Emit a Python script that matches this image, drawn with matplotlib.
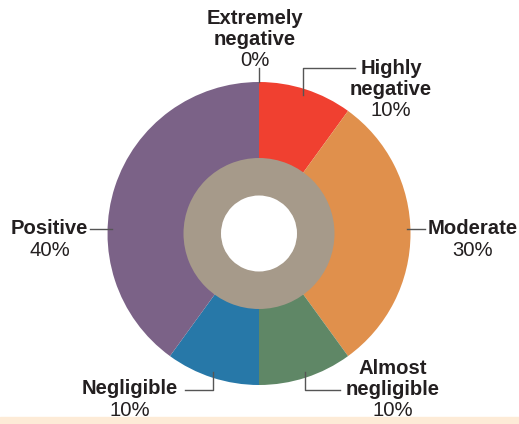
import matplotlib.pyplot as plt

plt.rcParams['font.family'] = ['Liberation Sans', 'DejaVu Sans']

# 数据
categories = ['Extremely\nnegative', 'Highly\nnegative', 'Moderate',
              'Almost\nnegligible', 'Negligible', 'Positive']
values = [0, 10, 30, 10, 10, 40]
colors = ['#F04030', '#F04030', '#E0904C', '#5F8766', '#2778A8', '#7B6287']

W, H = 519, 424
fig = plt.figure(figsize=(W / 100, H / 100), dpi=100)
ax = fig.add_axes([0, 0, 1, 1])

# 底部浅色条
ax.axhspan(0, H - 417, color='#FDEBD7', zorder=0)

cx, cy = 259, H - 233.5
ax.pie(values, colors=colors, startangle=90, counterclock=False,
       center=(cx, cy), radius=151.5, wedgeprops=dict(linewidth=0),
       frame=True)
# 内圈（灰色环 + 白色中心）
ax.pie([1], colors=['#A69A8A'], center=(cx, cy), radius=75.5,
       wedgeprops=dict(linewidth=0), frame=True)
ax.pie([1], colors=['white'], center=(cx, cy), radius=38,
       wedgeprops=dict(linewidth=0), frame=True)
ax.set_xlim(0, W)
ax.set_ylim(0, H)
ax.set_aspect('equal')
ax.axis('off')

txt = '#231F20'
line_c = '#555555'


def y(p):
    return H - p


# 标签: (名称位置, 对齐, 百分比位置, 引线点)
labels = [
    ((255, 29), 'center', (255, 61), [(259, 82), (259, 68)]),
    ((391, 79), 'center', (391, 111), [(303, 95), (303, 68), (355, 68)]),
    ((428, 229), 'left', (473, 251), [(407, 229), (425, 229)]),
    ((393, 379), 'center', (393, 411), [(305, 372), (305, 390), (340, 390)]),
    ((130, 388), 'center', (130, 410), [(213, 372), (213, 390), (185, 390)]),
    ((88, 229), 'right', (50, 251), [(112, 229), (90, 229)]),
]

for name, v, (npos, ha, ppos, pts) in zip(categories, values, labels):
    ax.text(npos[0], y(npos[1]), name, ha=ha, va='center', fontsize=14.6,
            fontweight='bold', color=txt, linespacing=1.15)
    ax.text(ppos[0], y(ppos[1]), f'{v}%', ha='center', va='center',
            fontsize=14.6, color=txt)
    ax.plot([p[0] for p in pts], [y(p[1]) for p in pts], color=line_c, lw=1)

fig.savefig('out.png', dpi=100)
